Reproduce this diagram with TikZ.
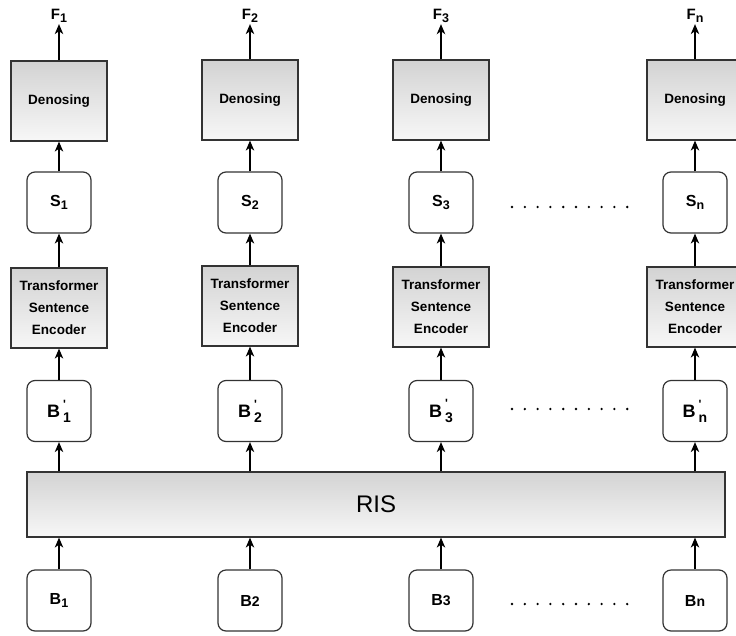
\documentclass[tikz,border=0pt]{standalone}
\usepackage{fontspec}
\setmainfont{Liberation Sans}
\usetikzlibrary{arrows.meta}
\definecolor{gtop}{HTML}{D3D3D3}
\definecolor{gbot}{HTML}{F7F7F7}
\definecolor{edgec}{HTML}{333333}
\newcommand\lowidx[1]{\raisebox{-0.45ex}{\fontsize{12.5}{12.5}\selectfont #1}}
\newcommand\bprime[1]{B\hspace{3pt}\rlap{\raisebox{1.0ex}{\fontsize{12}{12}\selectfont\textquotesingle}}\raisebox{-0.5ex}{\fontsize{14}{14}\selectfont #1}}
\begin{document}
\begin{tikzpicture}[x=1pt,y=1pt,
  procbox/.style={draw=edgec, line width=1.2pt, top color=gtop, bottom color=gbot,
    minimum width=96pt, minimum height=80pt, inner sep=0pt, align=center,
    font=\fontsize{13.5}{22}\selectfont\bfseries},
  roundbox/.style={draw=edgec, line width=1.2pt, rounded corners=8pt, fill=white,
    minimum width=64pt, minimum height=61pt, inner sep=0pt,
    font=\fontsize{16}{16}\selectfont\bfseries},
  flabel/.style={inner sep=1pt, font=\fontsize{15}{15}\selectfont\bfseries},
  arr/.style={-{Stealth[length=10pt,width=8.5pt,inset=3pt]}, line width=1.2pt},
  dotc/.style={fill=black}]
\useasboundingbox (0,0) rectangle (736,-635);
% column centres
\def\ca{59}\def\cb{250}\def\cc{441}\def\cd{695}
% RIS
\node[procbox, minimum width=698pt, minimum height=65pt, font=\fontsize{24}{24}\selectfont] (ris) at (376,-504.5) {RIS};
% bottom inputs
\node[roundbox] (b1) at (\ca,-600.5) {B\lowidx{1}};
\node[roundbox] (b2) at (\cb,-600.5) {B{\fontsize{14}{14}\selectfont 2}};
\node[roundbox] (b3) at (\cc,-600.5) {B{\fontsize{14}{14}\selectfont 3}};
\node[roundbox] (b4) at (\cd,-600.5) {B{\fontsize{14}{14}\selectfont n}};
% B'
\node[roundbox, font=\fontsize{18}{18}\selectfont\bfseries] (bp1) at (\ca,-411) {\bprime{1}};
\node[roundbox, font=\fontsize{18}{18}\selectfont\bfseries] (bp2) at (\cb,-411) {\bprime{2}};
\node[roundbox, font=\fontsize{18}{18}\selectfont\bfseries] (bp3) at (\cc,-411) {\bprime{3}};
\node[roundbox, font=\fontsize{18}{18}\selectfont\bfseries] (bp4) at (\cd,-411) {\bprime{n}};
% transformer
\node[procbox] (t1) at (\ca,-308) {Transformer\\Sentence\\Encoder};
\node[procbox] (t2) at (\cb,-306) {Transformer\\Sentence\\Encoder};
\node[procbox] (t3) at (\cc,-307) {Transformer\\Sentence\\Encoder};
\node[procbox] (t4) at (\cd,-307) {Transformer\\Sentence\\Encoder};
% S
\node[roundbox] (s1) at (\ca,-202.5) {S\lowidx{1}};
\node[roundbox] (s2) at (\cb,-202.5) {S\lowidx{2}};
\node[roundbox] (s3) at (\cc,-202.5) {S\lowidx{3}};
\node[roundbox] (s4) at (\cd,-202.5) {S\lowidx{n}};
% Denoising
\node[procbox] (d1) at (\ca,-101) {Denosing};
\node[procbox] (d2) at (\cb,-100) {Denosing};
\node[procbox] (d3) at (\cc,-100) {Denosing};
\node[procbox] (d4) at (\cd,-100) {Denosing};
% outputs
\node[flabel] (f1) at (\ca,-16) {F\lowidx{1}};
\node[flabel] (f2) at (\cb,-16) {F\lowidx{2}};
\node[flabel] (f3) at (\cc,-16) {F\lowidx{3}};
\node[flabel] (f4) at (\cd,-16) {F\lowidx{n}};
% arrows
\foreach \i in {1,2,3,4}{
  \draw[arr] (b\i.north) -- (b\i.north |- ris.south);
  \draw[arr] (bp\i.south |- ris.north) -- (bp\i.south);
  \draw[arr] (bp\i.north) -- (t\i.south);
  \draw[arr] (t\i.north) -- (s\i.south);
  \draw[arr] (s\i.north) -- (d\i.south);
  \draw[arr] (d\i.north) -- (f\i.south);
}
% dots
\foreach \yy in {207,409,604}{
  \foreach \k in {0,...,9}{
    \fill[dotc] (512+12.8*\k,-\yy) circle (1.3pt);
  }
}
\end{tikzpicture}
\end{document}
